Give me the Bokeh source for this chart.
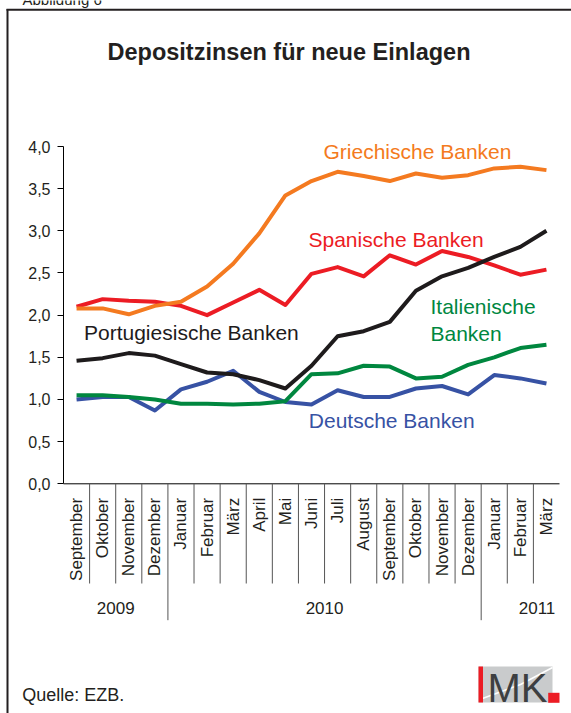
from math import pi
from bokeh.plotting import figure
from bokeh.models import Range1d, FixedTicker, CustomJSTickFormatter
from bokeh.core.properties import value
from bokeh.embed import file_html
from bokeh.resources import INLINE

# ---------------- data ----------------
months = ["September", "Oktober", "November", "Dezember",
          "Januar", "Februar", "März", "April", "Mai", "Juni", "Juli",
          "August", "September", "Oktober", "November", "Dezember",
          "Januar", "Februar", "März"]
month_year = ["2009"] * 4 + ["2010"] * 12 + ["2011"] * 3
year_labels = ["2009", "2010", "2011"]

griechische = [2.08, 2.08, 2.01, 2.11, 2.16, 2.34, 2.61, 2.97, 3.42, 3.59,
               3.70, 3.65, 3.59, 3.68, 3.63, 3.66, 3.74, 3.76, 3.72]
spanische = [2.10, 2.19, 2.17, 2.16, 2.11, 2.00, 2.15, 2.30, 2.12, 2.49,
             2.57, 2.46, 2.71, 2.60, 2.76, 2.69, 2.59, 2.48, 2.54]
portugiesische = [1.46, 1.49, 1.55, 1.52, 1.42, 1.32, 1.30, 1.23, 1.13, 1.40,
                  1.75, 1.81, 1.92, 2.29, 2.46, 2.56, 2.69, 2.81, 3.00]
italienische = [1.05, 1.05, 1.03, 1.00, 0.95, 0.95, 0.94, 0.95, 0.98, 1.30,
                1.31, 1.40, 1.39, 1.25, 1.27, 1.41, 1.50, 1.61, 1.65]
deutsche = [1.00, 1.03, 1.03, 0.87, 1.12, 1.21, 1.34, 1.09, 0.97, 0.94,
            1.11, 1.03, 1.03, 1.13, 1.16, 1.06, 1.29, 1.25, 1.19]

y_ticks = [0.0, 0.5, 1.0, 1.5, 2.0, 2.5, 3.0, 3.5, 4.0]

# ---------------- layout helpers (page pixels -> data) ----------------
FONT = "Liberation Sans"
TXT = "#231f20"
C_GR, C_ES, C_PT, C_IT, C_DE = "#f47a20", "#ec1c24", "#1e1b1c", "#00873f", "#3752a4"

AXIS_PX = 63.0                  # page x of the y axis
XS = 496.0 / len(months)        # px per category
Y0_PX = 483.3                   # page y of value 0
YS = (483.3 - 146.0) / 4.0      # px per unit
LEFT_PX, RIGHT_PX = 0.0, 571.0  # canvas extent on the page
TOP_PX, BOT_PX = 0.0, 713.0


def px_x(px):
    return -0.5 + (px - AXIS_PX) / XS


def px_y(py):
    return (Y0_PX - py) / YS


def put_text(txt, lx, mid_y, size, color, align="left", style="normal", font=FONT):
    p.text(x=[px_x(lx)], y=[px_y(mid_y)], text=[txt], text_align=align,
           text_baseline="middle", text_font=value(font), text_font_size=size,
           text_font_style=style, text_color=color)


idx = list(range(len(months)))

p = figure(width=int(RIGHT_PX - LEFT_PX), height=int(BOT_PX - TOP_PX),
           min_border=0,
           x_range=Range1d(px_x(LEFT_PX), px_x(RIGHT_PX)),
           y_range=Range1d(px_y(BOT_PX), px_y(TOP_PX)),
           x_axis_location=None, toolbar_location=None,
           output_backend="svg", background_fill_color="white",
           border_fill_color="white", outline_line_color=None)
p.grid.visible = False

# y axis, fixed at the left edge of the first category
ax = p.yaxis[0]
ax.fixed_location = -0.5
ax.bounds = (0, 4)
ax.ticker = FixedTicker(ticks=y_ticks)
ax.formatter = CustomJSTickFormatter(code="return tick.toFixed(1).replace('.', ',');")
ax.minor_tick_line_color = None
ax.major_tick_in = 0
ax.major_tick_out = 6
ax.major_label_standoff = 7
ax.axis_line_color = "#000000"
ax.major_tick_line_color = "#000000"
ax.major_label_text_font = FONT
ax.major_label_text_font_size = "16px"
ax.major_label_text_color = TXT

# header text (cut by the top edge, as in the reference)
put_text("Abbildung 6", 22, -1.0, "15px", TXT)

# outer frame of the figure box
p.segment(x0=[px_x(7)], y0=[px_y(8.5)], x1=[px_x(7)], y1=[px_y(BOT_PX)],
          line_color=TXT, line_width=2)
p.segment(x0=[px_x(6)], y0=[px_y(9.2)], x1=[px_x(RIGHT_PX)], y1=[px_y(9.2)],
          line_color=TXT, line_width=2)

# x axis line and category separators
p.segment(x0=[-0.5], y0=[0], x1=[len(months) - 0.5], y1=[0], line_color="#000000", line_width=1)
bounds = [i + 0.5 for i in idx[:-1]]
month_sep_y = px_y(583.0)
year_sep_y = px_y(619.7)
month_b = [b for i, b in enumerate(bounds) if month_year[i] == month_year[i + 1]]
year_b = [b for i, b in enumerate(bounds) if month_year[i] != month_year[i + 1]]
p.segment(x0=month_b, y0=[0] * len(month_b), x1=month_b, y1=[month_sep_y] * len(month_b),
          line_color="#555555", line_width=1)
p.segment(x0=year_b, y0=[0] * len(year_b), x1=year_b, y1=[year_sep_y] * len(year_b),
          line_color="#555555", line_width=1)

p.text(x=idx, y=[0] * len(idx), text=months, angle=pi / 2, y_offset=14,
       text_align="right", text_baseline="middle", text_font=value(FONT),
       text_font_size="17px", text_color=TXT)

year_x = [sum(i for i in idx if month_year[i] == y) / month_year.count(y) for y in year_labels]
year_x[-1] = px_x(536.5)
p.text(x=year_x, y=[px_y(607.0)] * 3, text=year_labels, text_align="center",
       text_baseline="middle", text_font=value(FONT), text_font_size="17px",
       text_color=TXT)

# series
for vals, col in [(deutsche, C_DE), (italienische, C_IT), (spanische, C_ES),
                  (griechische, C_GR), (portugiesische, C_PT)]:
    p.line(idx, vals, line_color=col, line_width=4, line_join="round")

# series labels (left x, vertical middle in page pixels)
labels = [("Griechische Banken", 323, 151.3, C_GR),
          ("Spanische Banken", 308, 238.8, C_ES),
          ("Portugiesische Banken", 83.5, 331.8, C_PT),
          ("Italienische", 430, 305.5, C_IT),
          ("Banken", 430, 332.8, C_IT),
          ("Deutsche Banken", 308.3, 420.0, C_DE)]
for t, lx, ly, col in labels:
    put_text(t, lx, ly, "21px", col)

# title
put_text("Depositzinsen für neue Einlagen", 288.5, 51.3, "23.5px", TXT,
         align="center", style="bold")

# source
put_text("Quelle: EZB.", 21.7, 694.8, "18px", TXT)

# IMK logo
p.quad(left=[px_x(478)], right=[px_x(552)], top=[px_y(666)], bottom=[px_y(702)],
       fill_color="#c9cbcc", line_color=None)
p.line([px_x(482), px_x(520), px_x(552)], [px_y(698), px_y(684), px_y(667)],
       line_color="white", line_width=1.5)
p.quad(left=[px_x(478)], right=[px_x(482.5)], top=[px_y(666)], bottom=[px_y(702)],
       fill_color="#ec1c24", line_color=None)
put_text("MK", 487, 687.5, "40px", "#3d3f41")
p.quad(left=[px_x(547.7)], right=[px_x(559)], top=[px_y(692.3)], bottom=[px_y(702.3)],
       fill_color="#ec1c24", line_color=None)

open("out.html", "w").write(file_html(p, INLINE))
